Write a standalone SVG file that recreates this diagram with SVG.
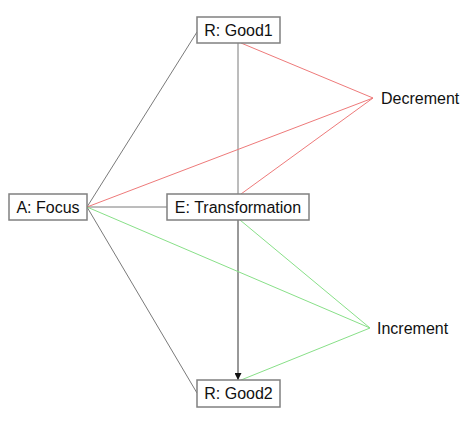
<svg xmlns="http://www.w3.org/2000/svg" width="474" height="424" viewBox="0 0 474 424">
<style>
.box{fill:#fff;stroke:#808080;stroke-width:1.5}
.t{font-family:"Liberation Sans",Arial,sans-serif;font-size:16px;fill:#111}
.g{stroke:#7a7a7a;stroke-width:1;fill:none}
.r{stroke:#ee7a7a;stroke-width:1;fill:none}
.gr{stroke:#88e088;stroke-width:1;fill:none}
</style>
<defs>
<marker id="arr" viewBox="0 0 8 8" refX="8" refY="4" markerWidth="7" markerHeight="7" markerUnits="userSpaceOnUse" orient="auto">
<path d="M0,0 L8,4 L0,8 z" fill="#111"/>
</marker>
</defs>
<rect width="474" height="424" fill="#fff"/>
<g id="connectors">
<line class="g" x1="87" y1="207" x2="197" y2="32"/>
<line class="g" x1="87" y1="207" x2="167" y2="207"/>
<line class="g" x1="87" y1="207" x2="197" y2="393"/>
<line class="g" x1="238" y1="43" x2="238" y2="194"/>
<line x1="238" y1="220" x2="238" y2="380" stroke="#333" stroke-width="1" marker-end="url(#arr)"/>
<line class="r" x1="241" y1="43" x2="373" y2="98"/>
<line class="r" x1="87" y1="207" x2="373" y2="98"/>
<line class="r" x1="241" y1="194" x2="373" y2="98"/>
<line class="gr" x1="87" y1="207" x2="370" y2="328"/>
<line class="gr" x1="240" y1="220" x2="370" y2="328"/>
<line class="gr" x1="241" y1="380" x2="370" y2="328"/>
</g>
<g id="good1">
<rect class="box" x="197" y="17" width="83" height="26"/>
<text class="t" x="238.5" y="36" text-anchor="middle">R: Good1</text>
</g>
<g id="focus">
<rect class="box" x="9" y="194" width="78" height="26"/>
<text class="t" x="48" y="213" text-anchor="middle">A: Focus</text>
</g>
<g id="transformation">
<rect class="box" x="167" y="194" width="142" height="26"/>
<text class="t" x="238" y="213" text-anchor="middle">E: Transformation</text>
</g>
<g id="good2">
<rect class="box" x="197" y="380" width="83" height="27"/>
<text class="t" x="238.5" y="399" text-anchor="middle">R: Good2</text>
</g>
<g id="decrement">
<text class="t" x="381" y="104">Decrement</text>
</g>
<g id="increment">
<text class="t" x="377" y="334">Increment</text>
</g>
</svg>
